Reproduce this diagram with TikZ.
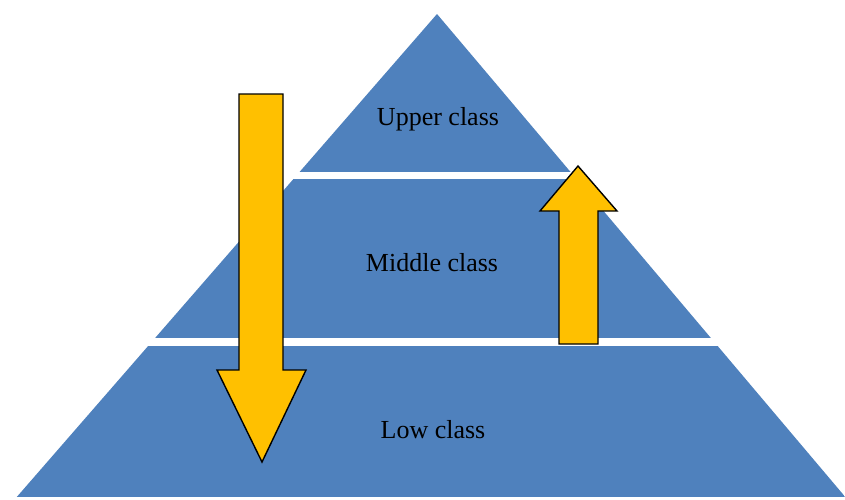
\documentclass[tikz,border=0pt]{standalone}
\usepackage{fontspec}
\setmainfont{Liberation Serif}
\usetikzlibrary{positioning}
\definecolor{bandblue}{HTML}{4F81BD}
\definecolor{arrowgold}{HTML}{FFC000}
\tikzset{
  bandtext/.style={font=\fontsize{26}{30}\selectfont, text=black},
  arrowbox/.style={fill=arrowgold, draw=black, line width=1.4pt, line join=miter},
}

\begin{document}
\begin{tikzpicture}[x=1pt,y=-1pt]
\useasboundingbox (0,0) rectangle (845,499);
\begin{scope}
\clip (437,14) -- (847,499) -- (15,499) -- cycle;
\fill[bandblue] (0,0) rectangle (845,172);
\fill[bandblue] (0,179) rectangle (845,338);
\fill[bandblue] (0,346) rectangle (845,497);
\end{scope}
\draw(438,119) node[bandtext] (upper) {Upper class};
\draw(432,263) node[bandtext] (middle) {Middle class};
\draw(433,430) node[bandtext] (low) {Low class};
\draw[arrowbox] (239,94) -- (283,94) -- (283,370) -- (306,370) -- (262,462)
  -- (217,370) -- (239,370) -- cycle;
\draw[arrowbox] (559,344) -- (598,344) -- (598,211) -- (617,211) -- (578,166)
  -- (540,211) -- (559,211) -- cycle;
\end{tikzpicture}
\end{document}
